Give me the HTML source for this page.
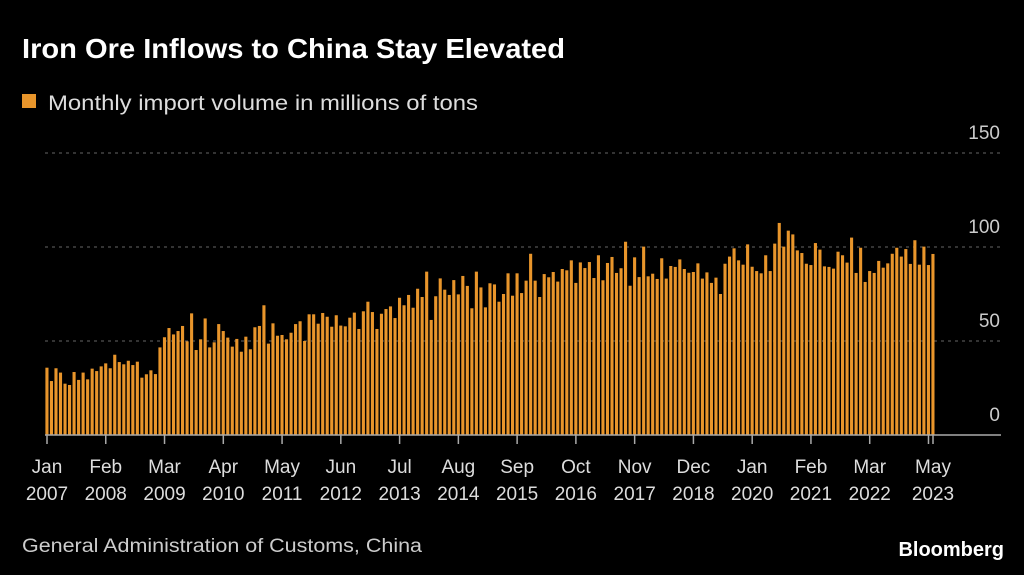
<!DOCTYPE html>
<html><head><meta charset="utf-8">
<style>
body{margin:0;background:#000;width:1024px;height:575px;overflow:hidden;font-family:"Liberation Sans",sans-serif;color:#fff}
svg{position:absolute;left:0;top:0}
</style></head>
<body>
<svg width="1024" height="575">
<text x="22" y="58" font-size="28" font-weight="bold" fill="#fff" textLength="543" lengthAdjust="spacingAndGlyphs">Iron Ore Inflows to China Stay Elevated</text>
<rect x="22" y="94" width="14" height="14" fill="#e8952b"/>
<text x="48" y="110" font-size="21" fill="#ddd" textLength="430" lengthAdjust="spacingAndGlyphs">Monthly import volume in millions of tons</text>
<g id="grid"></g>
<g id="bars"></g>
<g id="xaxis"></g>
<text x="22" y="552" font-size="19" fill="#ccc" textLength="400" lengthAdjust="spacingAndGlyphs">General Administration of Customs, China</text>
<text x="1004" y="556" font-size="20" font-weight="bold" fill="#fff" text-anchor="end">Bloomberg</text>
</svg>
<script>
const values=[35.8,28.7,35.5,33.2,27.3,26.6,33.5,29.3,33.2,29.6,35.3,34,36.5,38.1,35.5,42.7,38.8,37.6,39.5,37.2,39,30.5,32.3,34.4,32.4,46.6,52,56.9,53.5,55.3,58,49.8,64.7,45.2,50.9,62,46.6,49.3,59,55.3,51.8,
47,51.1,44.3,52.3,45.6,57.3,58,69,48.6,59.4,52.8,53.2,50.9,54.4,59,60.5,50,64.2,64.2,59.2,64.9,62.9,57.6,63.7,58.2,57.8,62.4,65.1,56.4,65.8,70.9,65.4,56.4,64.5,67,68.4,62.2,73,69,74.5,
67.7,77.8,73.4,86.9,61.2,73.8,83.3,77.3,74.5,82.4,74.8,84.6,79.3,67.4,86.9,78.5,67.9,80.7,80.1,70.9,75,86,74.1,86,75.5,82.1,96.4,82.1,73.4,85.6,83.9,86.7,81.6,88.3,87.6,92.9,80.9,91.8,88.8,92,
83.5,95.6,82.3,91.5,94.7,86.2,88.7,102.8,79.4,94.5,84,100.2,84.4,85.8,83,94,83.2,89.9,89.4,93.4,88.3,86.3,86.7,91.3,83.2,86.5,80.9,83.7,75,91.1,94.9,99.3,92.9,90.6,101.4,89.5,87.2,86,95.6,87.2,
101.8,112.8,100.2,108.7,106.7,98.2,96.8,91.1,90.4,102.1,98.6,89.7,89.4,88.5,97.5,95.6,91.7,105,86.2,99.6,81.4,87.2,86.2,92.6,89,91.3,96.4,99.6,94.9,98.9,91,103.6,90.6,100.2,90.4,96.3];
const yTicks=[0,50,100,150];
const xTickMonths=[0,13,26,39,52,65,78,91,104,117,130,143,156,169,182,195,196];
const xTickLabels=[["Jan","2007"],["Feb","2008"],["Mar","2009"],["Apr","2010"],["May","2011"],["Jun","2012"],["Jul","2013"],["Aug","2014"],["Sep","2015"],["Oct","2016"],["Nov","2017"],["Dec","2018"],["Jan","2020"],["Feb","2021"],["Mar","2022"],null,["May","2023"]];
const NS="http://www.w3.org/2000/svg";
const x0=47,x1=933,y0=435,yPer=1.88;
const n=values.length;
function xs(i){return x0+i*(x1-x0)/(n-1);}
function ys(v){return y0-v*yPer;}
function mk(t,a,p){const e=document.createElementNS(NS,t);for(const k in a)e.setAttribute(k,a[k]);p.appendChild(e);return e;}
const grid=document.getElementById('grid'),bars=document.getElementById('bars'),xa=document.getElementById('xaxis');
yTicks.forEach(t=>{
  if(t>0){const l=mk('line',{x1:45,x2:1000,y1:ys(t),y2:ys(t),stroke:'#666','stroke-dasharray':'3,4','stroke-width':1},grid);
  
  }
  const tx=mk('text',{x:1000,y:ys(t)-14,'font-size':19,fill:'#ccc','text-anchor':'end'},grid);
  tx.textContent=t;
  
  
});
values.forEach((v,i)=>{
  const r=mk('rect',{x:xs(i)-1.6,y:ys(v),width:3.1,height:v*yPer,fill:'#e8952b'},bars);
  
  
});
const ax=mk('line',{x1:45,x2:1001,y1:y0,y2:y0,stroke:'#aaa','stroke-width':1.5},xa);


xTickMonths.forEach((m,k)=>{
  const tk=mk('line',{x1:xs(m),x2:xs(m),y1:y0,y2:y0+9,stroke:'#aaa','stroke-width':1.5},xa);
  
  
  const lab=xTickLabels[k];
  if(lab){
    const t=mk('text',{x:xs(m),y:473,'font-size':19,fill:'#ddd','text-anchor':'middle'},xa);
    t.textContent=lab[0];
    
    
    const t2=mk('text',{x:xs(m),y:500,'font-size':19,fill:'#ddd','text-anchor':'middle'},xa);
    t2.textContent=lab[1];
    
    
  }
});
</script>
</body></html>
